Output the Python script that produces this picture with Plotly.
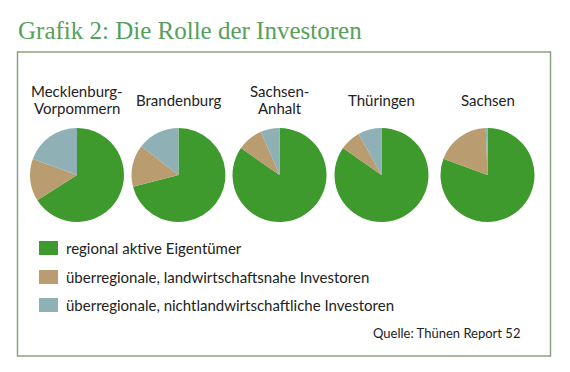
import plotly.graph_objects as go

# ---- data ----
regions = ["Mecklenburg-<br>Vorpommern", "Brandenburg", "Sachsen-<br>Anhalt", "Thüringen", "Sachsen"]
categories = [
    "regional aktive Eigentümer",
    "überregionale, landwirtschaftsnahe Investoren",
    "überregionale, nichtlandwirtschaftliche Investoren",
]
regional_aktiv = [66.0, 71.0, 84.7, 84.7, 80.6]
landwirtschaftsnah = [14.5, 14.5, 8.8, 7.2, 18.8]
nichtlandwirtschaftlich = [19.5, 14.5, 6.5, 8.1, 0.6]

colors = ["#3e9a2c", "#b99c70", "#8fb1b5"]
W, H = 570, 372

fig = go.Figure()

centers_x = [77, 178.5, 279.5, 381.5, 487.5]
cy, r = 175, 47
label_font = dict(family="Lato", size=15, color="#222222")
for i, reg in enumerate(regions):
    cx = centers_x[i]
    fig.add_trace(go.Pie(
        labels=categories,
        values=[regional_aktiv[i], landwirtschaftsnah[i], nichtlandwirtschaftlich[i]],
        marker=dict(colors=colors, line=dict(width=0)),
        sort=False, direction="clockwise", rotation=0,
        textinfo="none", hoverinfo="label+percent",
        showlegend=False,
        domain=dict(x=[(cx - r) / W, (cx + r) / W], y=[1 - (cy + r) / H, 1 - (cy - r) / H]),
    ))
    lines = reg.split("<br>")
    ys = [99.5] if len(lines) == 1 else [91, 108]
    for line, ly in zip(lines, ys):
        fig.add_annotation(
            x=cx / W, y=1 - ly / H, xref="paper", yref="paper",
            text=line, showarrow=False, xanchor="center", yanchor="middle",
            font=label_font,
        )

shapes = [dict(type="rect", xref="paper", yref="paper",
               x0=17.5 / W, x1=550.5 / W, y0=1 - 356 / H, y1=1 - 52 / H,
               line=dict(color="#8ba383", width=1.5), fillcolor="rgba(0,0,0,0)")]
leg_y = [248, 277, 305]
for j, cat in enumerate(categories):
    yc = leg_y[j]
    shapes.append(dict(type="rect", xref="paper", yref="paper",
                       x0=39 / W, x1=58 / W, y0=1 - (yc + 7) / H, y1=1 - (yc - 7) / H,
                       line=dict(width=0), fillcolor=colors[j]))
    fig.add_annotation(x=64 / W, y=1 - yc / H, xref="paper", yref="paper",
                       text=cat, showarrow=False, xanchor="left", yanchor="middle",
                       font=dict(family="Lato", size=15, color="#222222"))

fig.add_annotation(x=522 / W, y=1 - 333 / H, xref="paper", yref="paper",
                   text="Quelle: Thünen Report 52", showarrow=False,
                   xanchor="right", yanchor="middle",
                   font=dict(family="Lato", size=13, color="#222222"))

fig.add_annotation(x=16 / W, y=1 - 30 / H, xref="paper", yref="paper",
                   text="Grafik 2: Die Rolle der Investoren", showarrow=False,
                   xanchor="left", yanchor="middle",
                   font=dict(family="Liberation Serif", size=25, color="#56a05a"))

fig.update_layout(
    width=W, height=H, margin=dict(l=0, r=0, t=0, b=0),
    paper_bgcolor="white", plot_bgcolor="white",
    shapes=shapes, showlegend=False,
)

fig.write_html("out.html", config={"displayModeBar": False},
               post_script="document.body.style.margin='0';document.body.style.overflow='hidden';")
